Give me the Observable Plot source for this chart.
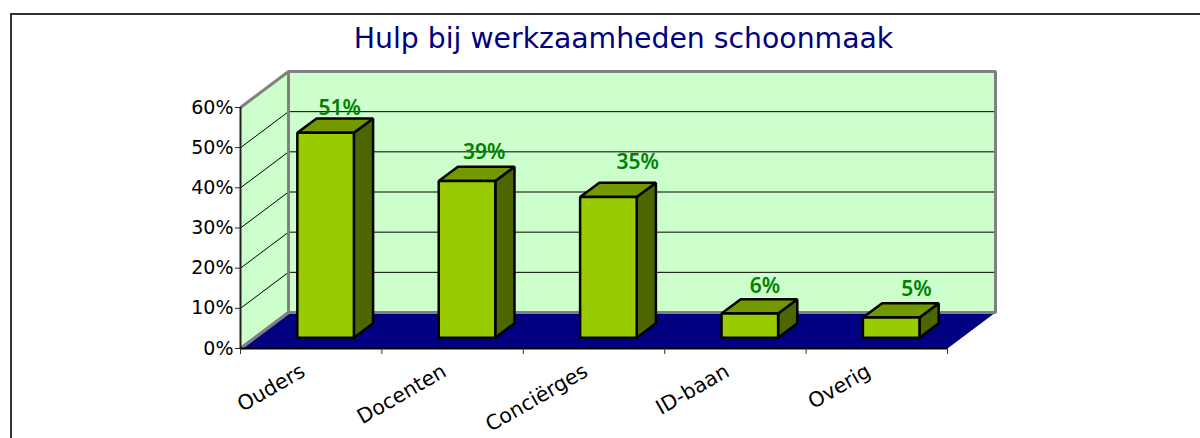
<!DOCTYPE html>
<html><head><meta charset="utf-8">
<script src="https://cdn.jsdelivr.net/npm/d3@7"></script>
<script src="https://cdn.jsdelivr.net/npm/@observablehq/plot@0.6"></script>
<style>
html,body{margin:0;padding:0;background:#fff}
#page{position:relative;width:1200px;height:438px;overflow:hidden;font-family:"DejaVu Sans",sans-serif}
#frame{position:absolute;left:10px;top:13px;right:-3px;bottom:-3px;border-top:2px solid #333;border-left:2px solid #333}
#title{position:relative;height:60px;line-height:60px;padding-top:9px;box-sizing:border-box;padding-left:47px;text-align:center;color:#000080;font-size:28.3px;white-space:nowrap}
svg{display:block;overflow:visible}
</style></head>
<body><div id="page"><div id="frame"></div><div id="title">Hulp bij werkzaamheden schoonmaak</div></div>
<script>
const categories = ["Ouders","Docenten","Conciërges","ID-baan","Overig"];
const values = [51,39,35,6,5];
const yTicks = [0,10,20,30,40,50,60];
const gridValues = [10,20,30,40,50];
const labelNudgeX = [-5,-2,10,-4,6];
const labelNudgeY = [-3,-8,-14,-6,-7];

// oblique projection: depth 0 (front) to 1 (back), in axis units
const yMax = 60, n = categories.length;
const kx = 48/141.4, ky = 36/4.017;
const P = (c,v,d) => ({x:c+d*kx, y:v+d*ky});
const face = (id,pts) => [...pts,pts[0]].map(p => ({id,...P(...p)}));
const gap = 0.3, bw = 0.4, d0 = 0.3, d1 = 0.7;

const sideWall = face("s",[[0,0,0],[0,0,1],[0,yMax,1],[0,yMax,0]]);
const backWall = face("b",[[0,0,1],[n,0,1],[n,yMax,1],[0,yMax,1]]);
const floor = face("f",[[0,0,0],[n,0,0],[n,0,1],[0,0,1]]);
const wallEdges = [
  ...face("e1",[[0,0,0],[0,0,1],[n,0,1],[n,yMax,1],[0,yMax,1],[0,0,1]]).slice(0,-1),
  ...[[0,yMax,0],[0,yMax,1]].map(p=>({id:"e2",...P(...p)})),
  ...[[0,0,0],[0,0,1]].map(p=>({id:"e3",...P(...p)}))
];
const grid = gridValues.flatMap(v => [[0,v,0],[0,v,1],[n,v,1]].map(p => ({id:"g"+v,...P(...p)})));
const fronts = values.flatMap((v,i)=>face("c"+i,[[i+gap,0,d0],[i+gap+bw,0,d0],[i+gap+bw,v,d0],[i+gap,v,d0]]));
const tops = values.flatMap((v,i)=>face("c"+i,[[i+gap,v,d0],[i+gap+bw,v,d0],[i+gap+bw,v,d1],[i+gap,v,d1]]));
const sides = values.flatMap((v,i)=>face("c"+i,[[i+gap+bw,0,d0],[i+gap+bw,0,d1],[i+gap+bw,v,d1],[i+gap+bw,v,d0]]));

const poly = (data,fill,stroke,strokeWidth) => Plot.line(data,{x:"x",y:"y",z:"id",fill,stroke,strokeWidth,strokeLinejoin:"miter",strokeLinecap:"butt"});

const labelMarks = values.map((v,i)=>{
  const p = P(i+gap+bw/2,v,d1);
  return Plot.text([{...p,t:v+"%"}],{x:"x",y:"y",text:"t",dx:labelNudgeX[i],dy:labelNudgeY[i],lineAnchor:"bottom",
    fill:"#008000",fontSize:21,fontWeight:600,fontFamily:"'Noto Sans',sans-serif"});
});

const chart = Plot.plot({
  width:1200,height:378,
  marginLeft:240,marginRight:253,marginTop:47,marginBottom:90,
  style:{fontFamily:"'DejaVu Sans',sans-serif",background:"transparent",color:"#000",overflow:"visible"},
  x:{type:"linear",domain:[0,n],range:[240,947]},
  y:{type:"linear",domain:[0,yMax],range:[288,47]},
  marks:[
    poly(sideWall,"#ccffcc","none",0),
    poly(backWall,"#ccffcc","none",0),
    poly(grid,"none","#000",1),
    poly(floor,"#000080","none",0),
    poly(wallEdges,"none","#808080",3),
    Plot.ruleX([0],{y1:0,y2:yMax,stroke:"#222",strokeWidth:2}),
    Plot.ruleY([0],{x1:0,x2:n,stroke:"#000",strokeWidth:2}),
    Plot.axisY({ticks:yTicks,tickFormat:d=>d+"%",tickSize:5,tickPadding:2,label:null,fontSize:19,stroke:"#222"}),
    Plot.axisX({ticks:d3.range(0,n+1),tickFormat:()=>"",tickSize:6,label:null,stroke:"#333"}),
    poly(sides,"#4d6600","#000",2.5),
    poly(tops,"#739900","#000",2.5),
    poly(fronts,"#99cc00","#000",2.5),
    ...labelMarks,
    Plot.text(categories,{x:(d,i)=>i+0.5,y:()=>0,text:d=>d,rotate:-30,textAnchor:"end",dx:-8,dy:21,fontSize:20.5,fill:"#000"})
  ]
});
document.getElementById("page").appendChild(chart);
</script></body></html>
